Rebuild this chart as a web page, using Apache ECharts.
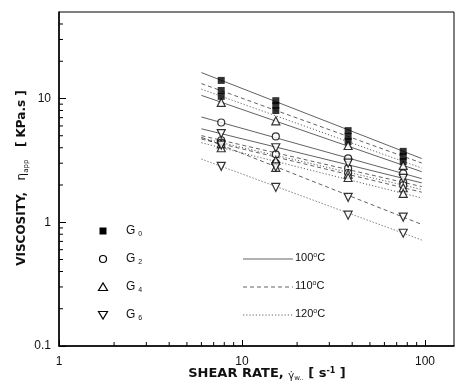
<!DOCTYPE html>
<html><head><meta charset="utf-8">
<script src="https://cdn.jsdelivr.net/npm/echarts@6/dist/echarts.min.js"></script>
<style>html,body{margin:0;padding:0;background:#fff}#c{width:457px;height:388px}</style>
</head><body><div id="c"></div>
<script>
// shear rates (s^-1)
const shearRates = [7.7, 15.3, 38, 76];
// viscosity (KPa.s) per sample and temperature
const G0_100 = [14.0, 9.6, 5.5, 3.74];
const G0_110 = [11.6, 8.8, 4.94, 3.41];
const G0_120 = [10.4, 8.0, 4.5, 3.1];
const G2_100 = [6.4, 4.94, 3.28, 2.48];
const G2_110 = [4.6, 3.54, 2.72, 2.1];
const G2_120 = [4.4, 3.0, 2.5, 1.99];
const G4_100 = [9.3, 6.6, 4.17, 2.88];
const G4_110 = [4.3, 3.16, 2.45, 1.9];
const G4_120 = [4.0, 2.78, 2.3, 1.71];
const G6_100 = [5.2, 4.0, 3.0, 2.26];
const G6_110 = [4.2, 2.8, 1.59, 1.10];
const G6_120 = [2.83, 1.91, 1.14, 0.815];
// fitted power-law lines: values at the two ends fitX
const fitX = [6, 96];
const G0_100_fit = [16.2, 3.27];
const G0_110_fit = [13.2, 3.01];
const G0_120_fit = [11.9, 2.74];
const G2_100_fit = [7.09, 2.25];
const G2_110_fit = [5.01, 1.94];
const G2_120_fit = [4.80, 1.84];
const G4_100_fit = [10.6, 2.56];
const G4_110_fit = [4.70, 1.75];
const G4_120_fit = [4.39, 1.57];
const G6_100_fit = [5.69, 2.08];
const G6_110_fit = [4.86, 0.96];
const G6_120_fit = [3.24, 0.718];
// ticks
const xMinorTicks = [2,3,4,5,6,7,8,9,20,30,40,50,60,70,80,90];
const yMinorTicks = [0.2,0.3,0.4,0.5,0.6,0.7,0.8,0.9,2,3,4,5,6,7,8,9,20,30,40];
const sampleNames = ['G0','G2','G4','G6'];
const tempNames = ['100°C','110°C','120°C'];

const FONT = 'Liberation Sans, Arial, sans-serif';
const TFONT = 'DejaVu Sans, sans-serif';
const X_MIN = 1, X_MAX = 144, Y_MIN = 0.1, Y_MAX = 50;
const downTri = 'path://M0,0 L10,0 L5,8.66 Z';
const symbols = {G0:'rect', G2:'circle', G4:'triangle', G6: downTri};
const sizes = {G0:7, G2:7, G4:8, G6:8};
const LINE_COLOR = '#3a3a3a';
const tempStyle = {'100°C':'solid', '110°C':[4,3], '120°C':[1.2,2]};

const sampleData = {
  G0:[G0_100,G0_110,G0_120], G2:[G2_100,G2_110,G2_120],
  G4:[G4_100,G4_110,G4_120], G6:[G6_100,G6_110,G6_120]
};
const fitData = {
  G0:[G0_100_fit,G0_110_fit,G0_120_fit], G2:[G2_100_fit,G2_110_fit,G2_120_fit],
  G4:[G4_100_fit,G4_110_fit,G4_120_fit], G6:[G6_100_fit,G6_110_fit,G6_120_fit]
};

const series = [];
sampleNames.forEach(g => {
  fitData[g].forEach((f, ti) => {
    series.push({
      type:'line', name: tempNames[ti], symbol:'none', silent:true, z:2,
      data: fitX.map((x,i)=>[x, f[i]]),
      lineStyle:{color:LINE_COLOR, width:0.8, type: tempStyle[tempNames[ti]]}
    });
  });
});
sampleNames.forEach(g => {
  const pts = [];
  sampleData[g].forEach(arr => arr.forEach((v,i)=>pts.push([shearRates[i], v])));
  series.push({
    type:'scatter', name:g, symbol: symbols[g], symbolSize: sizes[g], z:5,
    data: pts,
    itemStyle: g==='G0' ? {color:'#000'} : {color:'#fff', borderColor:'#000', borderWidth:1.2}
  });
});
function minorTicks(vals, axis){
  return {
    type:'custom', silent:true, z:4,
    data: vals.map(v => axis==='x' ? [v, Y_MIN] : [X_MIN, v]),
    encode:{x:0, y:1},
    renderItem:(params, api) => {
      const p = api.coord([api.value(0), api.value(1)]);
      const len = 4;
      return {type:'line', shape: axis==='x'
        ? {x1:p[0], y1:p[1], x2:p[0], y2:p[1]-len}
        : {x1:p[0], y1:p[1], x2:p[0]+len, y2:p[1]},
        style:{stroke:'#000', lineWidth:1}};
    }
  };
}
series.push(minorTicks(xMinorTicks,'x'));
series.push(minorTicks(yMinorTicks,'y'));

// legend graphics
const LX = 103, LY0 = 231, LDY = 28;
const legendG = [
  {type:'rect', shape:{x:LX-3.5, y:LY0-3.5, width:7, height:7}, style:{fill:'#000'}},
  {type:'circle', shape:{cx:LX, cy:LY0+LDY, r:3.5}, style:{fill:'#fff', stroke:'#000', lineWidth:1.2}},
  {type:'polygon', shape:{points:[[LX-4.5,LY0+2*LDY+3.5],[LX+4.5,LY0+2*LDY+3.5],[LX,LY0+2*LDY-4]]}, style:{fill:'#fff', stroke:'#000', lineWidth:1.2}},
  {type:'polygon', shape:{points:[[LX-4.5,LY0+3*LDY-3.5],[LX+4.5,LY0+3*LDY-3.5],[LX,LY0+3*LDY+4]]}, style:{fill:'#fff', stroke:'#000', lineWidth:1.2}}
];
sampleNames.forEach((n,i) => {
  legendG.push({type:'text', x:126, y:LY0+i*LDY, style:{
    text:'{g|G}{s|' + n.slice(1) + '}', verticalAlign:'middle',
    rich:{g:{fontSize:12, fontFamily:FONT, fill:'#111'},
          s:{fontSize:7, fontFamily:FONT, fill:'#111', padding:[7,0,0,3]}}}});
});
tempNames.forEach((n,i) => {
  const y = LY0 + (i+1)*LDY;
  legendG.push({type:'line', shape:{x1:243, y1:y, x2:293, y2:y},
    style:{stroke:LINE_COLOR, lineWidth:0.8, lineDash: tempStyle[n]==='solid' ? null : tempStyle[n]}});
  legendG.push({type:'text', x:295, y:y-1, style:{
    text:'{t|' + n.replace('°C','') + '}{o|o}{t|C}', verticalAlign:'middle',
    rich:{t:{fontSize:11, fontFamily:FONT, fill:'#111'},
          o:{fontSize:7, fontFamily:FONT, fill:'#111', padding:[0,0,5,0]}}}});
});

const chart = echarts.init(document.getElementById('c'), null, {renderer:'canvas'});
chart.setOption({
  animation:false,
  backgroundColor:'#fff',
  grid:{left:59, right:3, top:12, bottom:42, show:true, borderColor:'#000', borderWidth:1, backgroundColor:'transparent'},
  xAxis:{type:'log', logBase:10, min:X_MIN, max:X_MAX,
    axisLine:{show:true, lineStyle:{color:'#000', width:1.5}},
    axisTick:{show:true, inside:true, length:6, lineStyle:{color:'#000', width:1}},
    axisLabel:{color:'#111', fontSize:12, fontFamily:FONT, margin:10, showMaxLabel:false},
    splitLine:{show:false}, minorTick:{show:false}},
  yAxis:{type:'log', logBase:10, min:Y_MIN, max:Y_MAX,
    axisLine:{show:true, lineStyle:{color:'#000', width:1.5}},
    axisTick:{show:true, inside:true, length:7, lineStyle:{color:'#000', width:1}},
    axisLabel:{color:'#111', fontSize:12, fontFamily:FONT, margin:8, showMaxLabel:false,
      formatter: v => String(+v.toPrecision(3))},
    splitLine:{show:false}, minorTick:{show:false}},
  graphic:[
    {type:'group', children: legendG},
    {type:'text', x:22, y:178, rotation:Math.PI/2, style:{
      text:'{b|VISCOSITY,}{e|   η}{sub|app}{b|   [ KPa.s ]}', align:'center', verticalAlign:'middle',
      rich:{b:{fontSize:12, fontWeight:'bold', fontFamily:TFONT, fill:'#111'},
            e:{fontSize:12, fontFamily:TFONT, fill:'#111'},
            sub:{fontSize:7, fontFamily:TFONT, fill:'#111', padding:[8,0,0,0]}}}},
    {type:'text', x:267, y:374, style:{
      text:'{b|SHEAR RATE, }{g|γ̇}{sub|w..}{b| [ s}{sup|-1}{b| ]}', align:'center', verticalAlign:'middle',
      rich:{b:{fontSize:13, fontWeight:'bold', fontFamily:TFONT, fill:'#111'},
            g:{fontSize:10, fontFamily:TFONT, fill:'#111', padding:[4,0,0,0]},
            sub:{fontSize:7, fontFamily:TFONT, fill:'#111', padding:[9,0,0,0]},
            sup:{fontSize:8, fontFamily:TFONT, fontWeight:'bold', fill:'#111', padding:[0,0,7,0]}}}}
  ],
  series: series
});
</script></body></html>
